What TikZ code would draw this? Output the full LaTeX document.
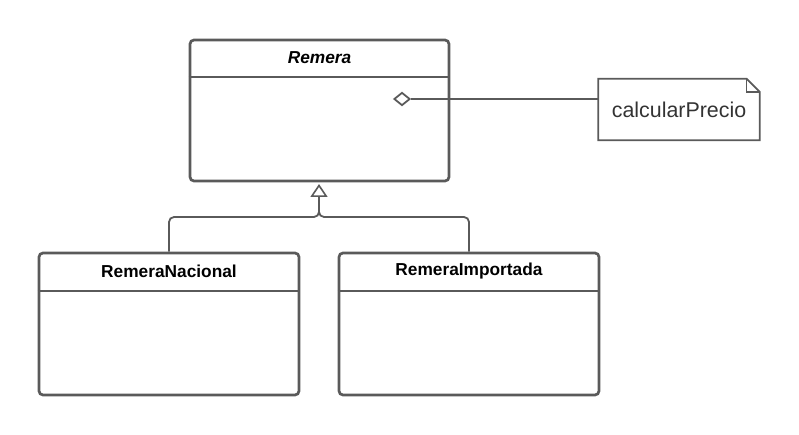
\documentclass[tikz,border=0pt]{standalone}
\usepackage{fontspec}
\setmainfont{Liberation Sans}
\usetikzlibrary{shapes.geometric,arrows.meta}
\definecolor{lineg}{HTML}{5A5A5A}
\definecolor{txtg}{HTML}{333333}
\tikzset{
  classbox/.style={draw=lineg, line width=2.7pt, rounded corners=4pt, inner sep=0pt},
  divider/.style={draw=lineg, line width=2.7pt},
  ctitle/.style={font=\fontsize{17.3}{19}\selectfont\bfseries, text=black, inner sep=0pt},
  conn/.style={draw=lineg, line width=1.8pt},
  aggr/.style={diamond, draw=lineg, line width=1.8pt, fill=white, minimum width=16pt, minimum height=13pt, inner sep=0pt},
  notetext/.style={font=\fontsize{21.4}{24}\selectfont, text=txtg, inner sep=0pt},
}
\begin{document}
\begin{tikzpicture}[x=1pt,y=-1pt]
\useasboundingbox (0,0) rectangle (799,435);
% classes
\node[classbox, minimum width=259pt, minimum height=141pt] (remera) at (319.5,110.5) {};
\node[ctitle, font=\fontsize{17.3}{19}\selectfont\bfseries\itshape] (remeraT) at (319.5,57.5) {Remera};
\draw[divider] (remera.west |- 0,77) -- (remera.east |- 0,77);

\node[classbox, minimum width=260pt, minimum height=142pt] (nac) at (169,324) {};
\node[ctitle] (nacT) at (169,271) {RemeraNacional};
\draw[divider] (nac.west |- 0,291) -- (nac.east |- 0,291);

\node[classbox, minimum width=260pt, minimum height=142pt] (imp) at (469,324) {};
\node[ctitle] (impT) at (469,271) {RemeraImportada};
\draw[divider] (imp.west |- 0,291) -- (imp.east |- 0,291);

% note
\node[inner sep=0pt, minimum width=161pt, minimum height=61pt] (note) at (679,109.5) {};
\draw[conn] (note.south west) -- (note.north west) -- ([xshift=-13pt]note.north east)
  -- ([yshift=-13pt]note.north east) -- (note.south east) -- cycle;
\draw[conn, line width=1.5pt] ([xshift=-13pt]note.north east) |- ([yshift=-13pt]note.north east);
\node[notetext] (noteT) at (679,110) {calcularPrecio};

% aggregation
\node[aggr] (ag) at (402,99) {};
\draw[conn] (ag.east) -- (ag.east -| note.west);

% generalization
\coordinate (j) at (319,217);
\coordinate (tip) at (319,184);
\draw[conn, rounded corners=5pt, -{Triangle[open, length=13pt, width=17pt, line width=1.6pt]}] (nac.north) |- (j) -- (tip);
\draw[conn, rounded corners=5pt] (imp.north) |- (j) -- ([yshift=10pt]j);
\end{tikzpicture}
\end{document}
